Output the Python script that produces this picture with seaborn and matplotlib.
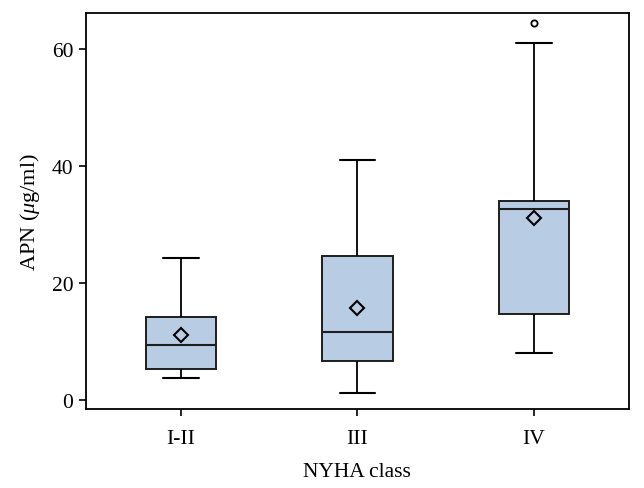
import matplotlib
matplotlib.use("Agg")
import matplotlib.pyplot as plt
import seaborn as sns
import pandas as pd

# Data (hand-picked samples reproducing the box statistics)
categories = ["I-II", "III", "IV"]
values_I_II = [3.8, 4.5, 5.3, 7.5, 9.45, 12.0, 14.2, 18.75, 24.4]
values_III = [1.36, 4.0, 6.8, 9.0, 11.7, 17.0, 24.6, 26.64, 41.1]
values_IV = [8.1, 11.0, 14.7, 21.5, 32.7, 33.3, 34.0, 61.0, 64.5]
y_ticks = [0, 20, 40, 60]

df = pd.DataFrame({
    "NYHA class": [categories[0]] * len(values_I_II)
    + [categories[1]] * len(values_III)
    + [categories[2]] * len(values_IV),
    "APN": values_I_II + values_III + values_IV,
})

sns.set_style("ticks")
plt.rcParams["font.family"] = ["Liberation Serif", "DejaVu Serif"]
plt.rcParams["mathtext.fontset"] = "custom"
plt.rcParams["mathtext.it"] = "Liberation Serif:italic"
plt.rcParams["mathtext.rm"] = "Liberation Serif"
plt.rcParams["text.color"] = "black"
plt.rcParams["axes.labelcolor"] = "black"
plt.rcParams["xtick.color"] = "black"
plt.rcParams["ytick.color"] = "black"

fig = plt.figure(figsize=(6.44, 4.89), dpi=100)
ax = fig.add_axes([0.133, 0.161, 0.844, 0.810])

line_c = "#1e1e1e"
sns.boxplot(
    data=df, x="NYHA class", y="APN", order=categories, ax=ax,
    color="#b8cce4", saturation=1, width=0.4, linecolor=line_c, linewidth=1.4,
    showmeans=True,
    meanprops=dict(marker="D", markerfacecolor="none", markeredgecolor="black",
                   markersize=7.5, markeredgewidth=1.5),
    flierprops=dict(marker="o", markerfacecolor="none", markeredgecolor="black",
                    markersize=4.5, markeredgewidth=1.3),
    whiskerprops=dict(color="black", linewidth=1.3),
    capprops=dict(color="black", linewidth=1.5),
    medianprops=dict(color=line_c, linewidth=1.5),
)

ax.set_xlim(-0.54, 2.54)
ax.set_ylim(-1.5, 66.1)
ax.set_yticks(y_ticks)
ax.set_xlabel("NYHA class", fontsize=15.5, labelpad=10)
ax.set_ylabel("APN ($\\mathit{\\mu}$g/ml)", fontsize=16, labelpad=7)
ax.tick_params(axis="both", labelsize=15.5, length=5, width=1.2, colors="black", direction="out")
ax.tick_params(axis="x", pad=9)
ax.tick_params(axis="y", pad=4)
for s in ax.spines.values():
    s.set_visible(True)
    s.set_linewidth(1.3)
    s.set_color("black")

fig.savefig("out.png", dpi=100)
